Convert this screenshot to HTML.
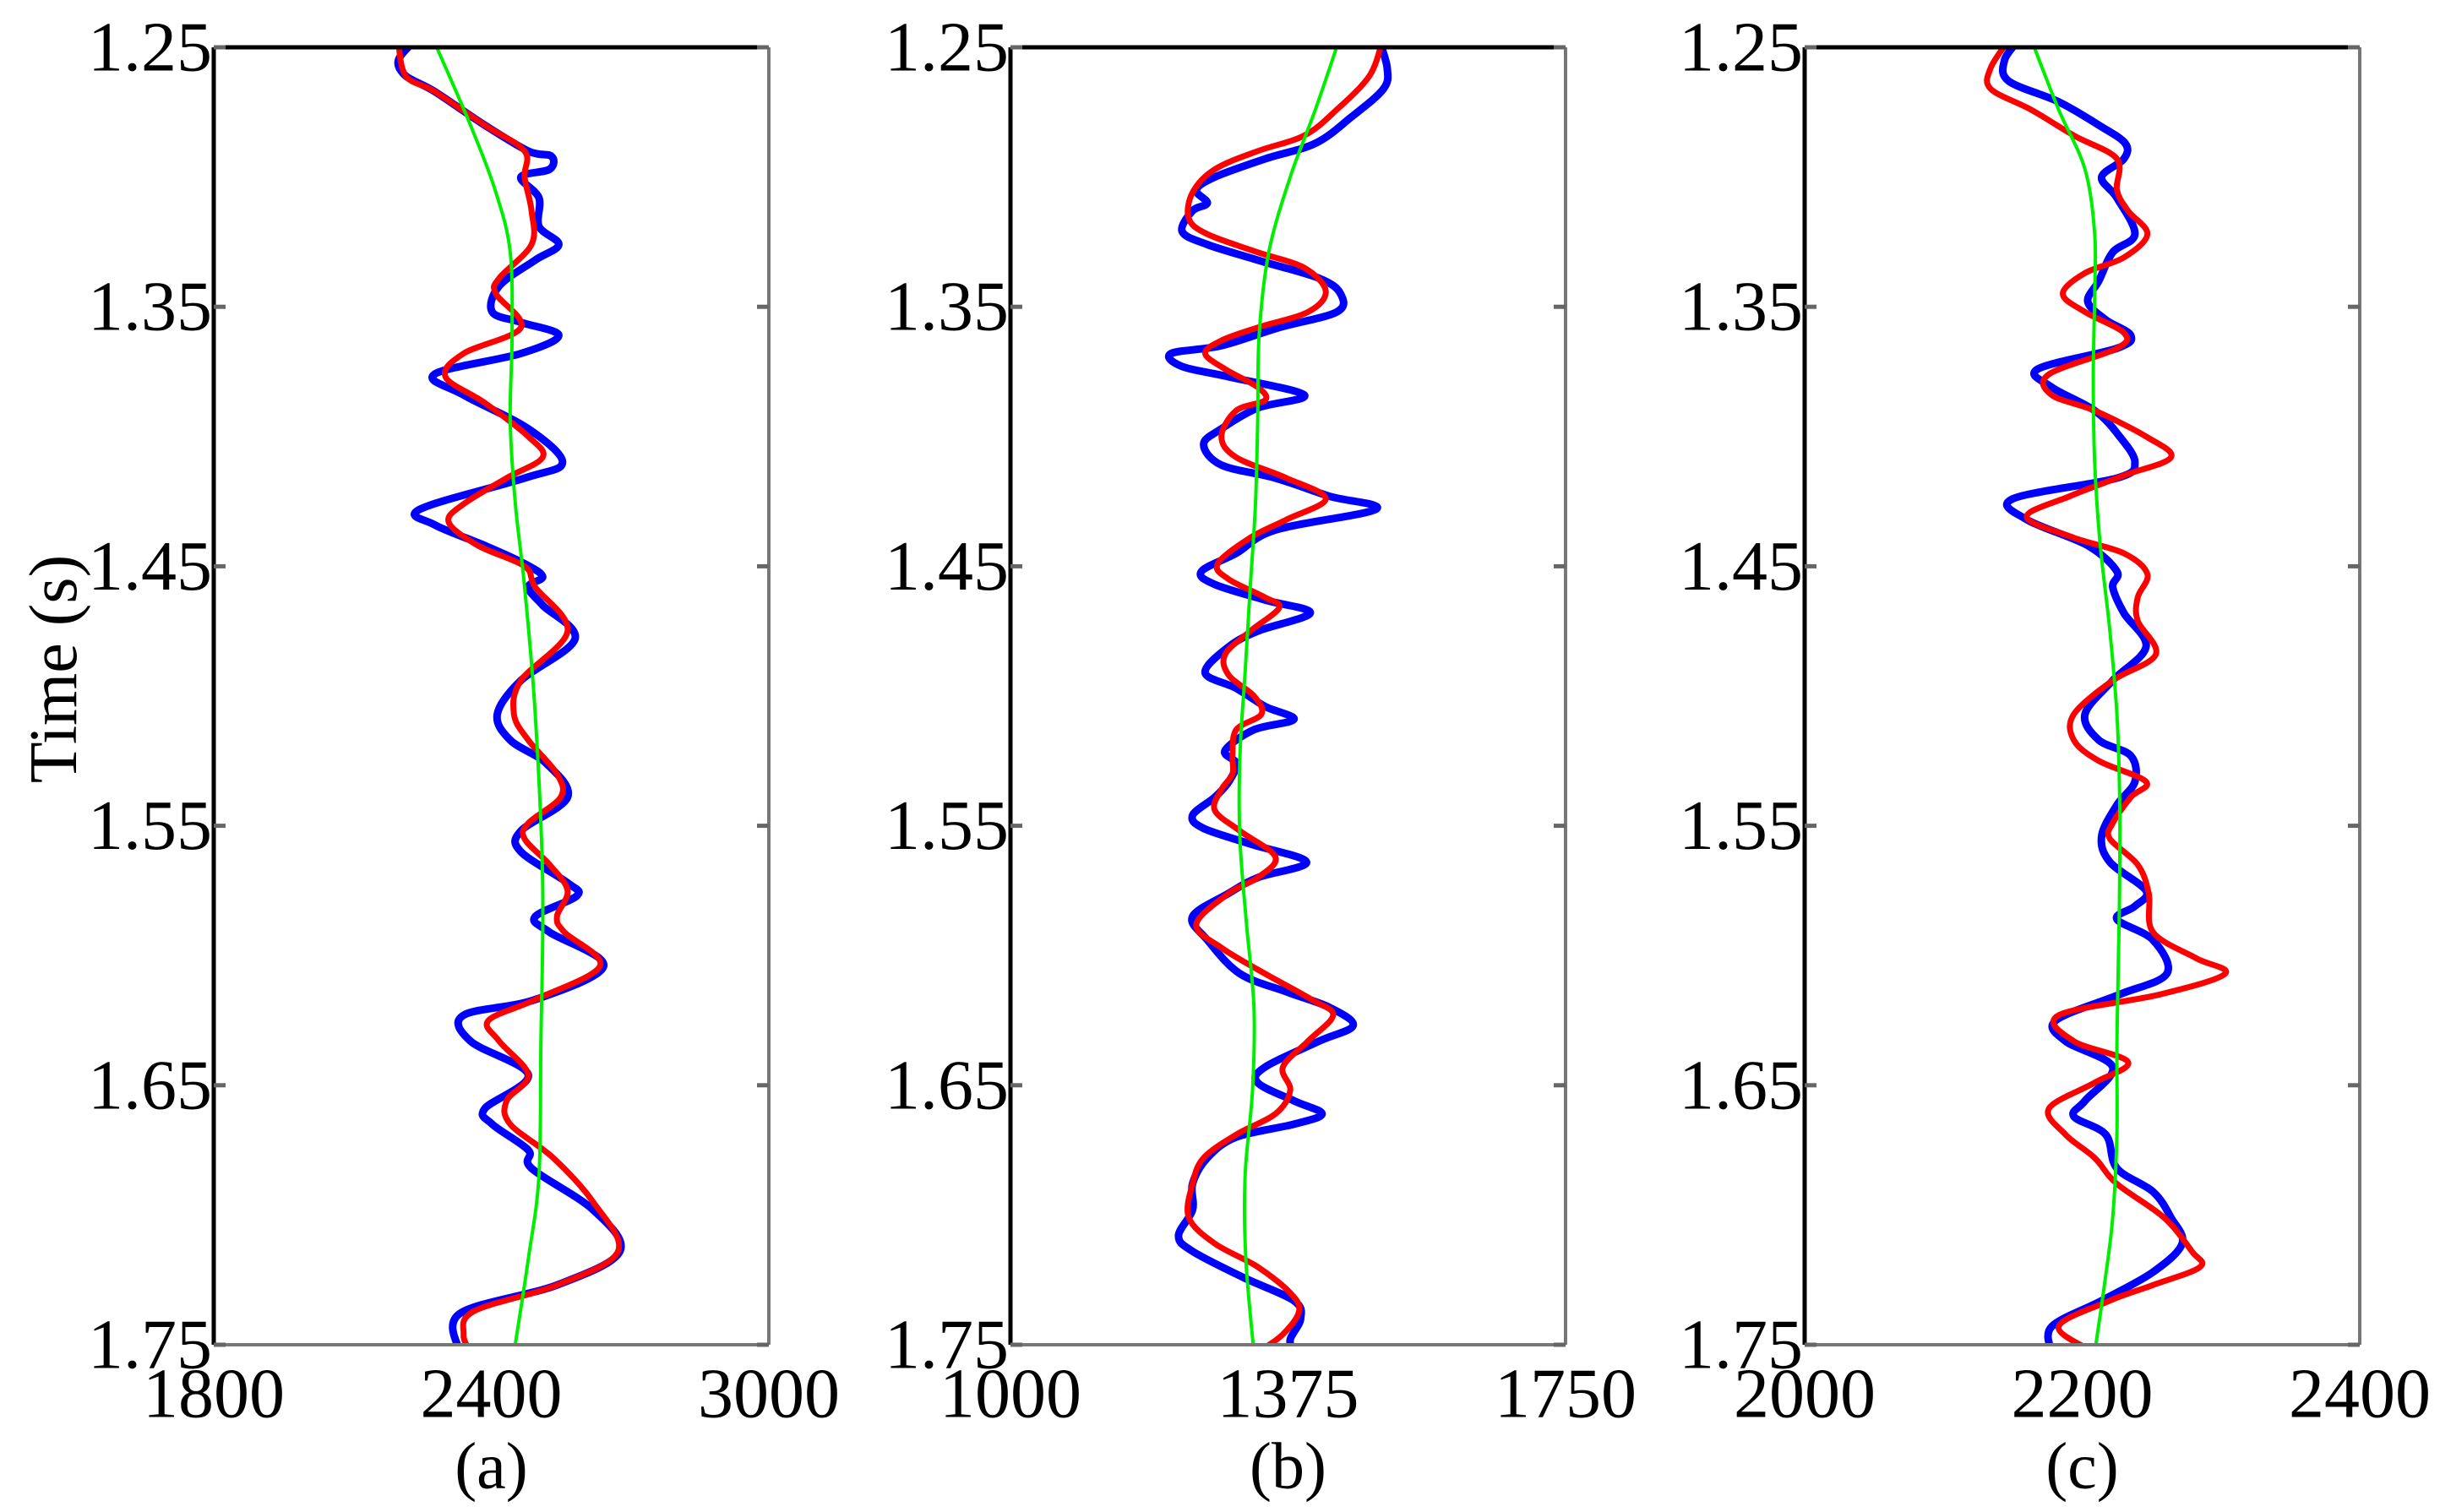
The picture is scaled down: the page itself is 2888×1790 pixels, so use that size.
<!DOCTYPE html>
<html><head><meta charset="utf-8"><style>
html,body{margin:0;padding:0;background:#fff;}
svg{display:block;}
text{font-family:"Liberation Serif",serif;fill:#000;}
</style></head><body>
<svg id="fig" width="2888" height="1790" viewBox="0 0 2888 1790" xmlns="http://www.w3.org/2000/svg">
<text x="64" y="792" font-size="80" text-anchor="middle" dominant-baseline="central" transform="rotate(-90 64 792)">Time (s)</text>
</svg>
<script>
const yTicks = [1.25, 1.35, 1.45, 1.55, 1.65, 1.75];
const yTickLabels = ["1.25","1.35","1.45","1.55","1.65","1.75"];
const panelNames = ["(a)","(b)","(c)"];
const xTicksA = [1800, 2400, 3000];
const xTicksB = [1000, 1375, 1750];
const xTicksC = [2000, 2200, 2400];

const aBlueT = [1.248,1.255,1.261,1.267,1.280,1.290,1.292,1.297,1.300,1.308,1.319,1.326,1.332,1.342,1.352,1.356,1.361,1.368,1.376,1.384,1.397,1.410,1.416,1.428,1.434,1.442,1.449,1.454,1.458,1.465,1.478,1.494,1.507,1.517,1.526,1.539,1.552,1.560,1.572,1.577,1.585,1.591,1.604,1.617,1.623,1.633,1.646,1.659,1.665,1.675,1.682,1.698,1.714,1.727,1.738,1.753];
const aBlueV = [2231,2199,2215,2277,2386,2480,2530,2526,2464,2503,2503,2546,2495,2417,2402,2464,2546,2464,2277,2340,2480,2554,2472,2246,2277,2386,2472,2511,2480,2511,2581,2464,2413,2441,2519,2565,2464,2464,2565,2585,2495,2526,2643,2495,2340,2355,2480,2386,2402,2480,2487,2620,2678,2542,2332,2332];
const aRedT = [1.248,1.261,1.267,1.280,1.290,1.300,1.313,1.326,1.339,1.345,1.358,1.368,1.377,1.387,1.400,1.408,1.416,1.426,1.433,1.442,1.450,1.458,1.475,1.494,1.507,1.517,1.530,1.539,1.549,1.555,1.565,1.575,1.585,1.591,1.604,1.617,1.625,1.633,1.646,1.656,1.665,1.678,1.695,1.714,1.727,1.737,1.746,1.753];
const aRedV = [2199,2215,2277,2386,2472,2472,2487,2487,2417,2410,2464,2340,2301,2386,2480,2511,2433,2340,2308,2371,2472,2495,2565,2464,2449,2480,2542,2550,2480,2472,2526,2565,2542,2558,2635,2495,2394,2417,2480,2433,2441,2534,2620,2674,2542,2363,2340,2355];
const aGreenT = [1.248,1.280,1.306,1.329,1.361,1.394,1.426,1.458,1.507,1.572,1.636,1.685,1.717,1.753];
const aGreenV = [2277,2355,2410,2441,2445,2441,2452,2472,2495,2511,2507,2503,2480,2449];

const bBlueT = [1.248,1.258,1.266,1.277,1.287,1.293,1.300,1.305,1.310,1.313,1.321,1.326,1.332,1.339,1.345,1.352,1.358,1.365,1.368,1.373,1.377,1.384,1.389,1.397,1.403,1.411,1.416,1.423,1.428,1.436,1.445,1.452,1.457,1.463,1.468,1.475,1.481,1.491,1.497,1.504,1.509,1.513,1.521,1.526,1.533,1.539,1.546,1.551,1.557,1.564,1.570,1.576,1.585,1.594,1.607,1.614,1.620,1.627,1.633,1.643,1.649,1.656,1.661,1.665,1.670,1.678,1.688,1.698,1.708,1.714,1.724,1.733,1.740,1.748,1.753];
const bBlueV = [1499,1509,1504,1460,1412,1344,1276,1251,1266,1246,1232,1266,1334,1417,1446,1441,1363,1285,1217,1232,1295,1397,1334,1285,1261,1285,1358,1431,1494,1358,1305,1258,1276,1344,1405,1334,1295,1263,1305,1344,1383,1329,1290,1305,1295,1276,1246,1261,1324,1400,1334,1295,1246,1266,1310,1373,1431,1463,1417,1344,1334,1383,1421,1383,1305,1266,1246,1246,1227,1246,1314,1383,1392,1378,1383];
const bRedT = [1.248,1.261,1.274,1.284,1.290,1.297,1.306,1.316,1.322,1.329,1.335,1.344,1.352,1.358,1.363,1.368,1.374,1.381,1.386,1.390,1.400,1.408,1.416,1.424,1.432,1.439,1.449,1.455,1.462,1.466,1.475,1.484,1.492,1.500,1.507,1.513,1.523,1.530,1.536,1.544,1.552,1.562,1.570,1.576,1.588,1.597,1.607,1.617,1.623,1.633,1.643,1.652,1.661,1.669,1.678,1.688,1.701,1.711,1.720,1.730,1.737,1.746,1.753];
const bRedV = [1502,1485,1441,1397,1334,1276,1246,1241,1266,1334,1397,1426,1402,1334,1285,1263,1290,1334,1344,1305,1285,1305,1373,1426,1373,1324,1280,1295,1344,1363,1324,1290,1295,1329,1339,1305,1300,1300,1285,1276,1310,1358,1334,1295,1251,1285,1344,1407,1436,1402,1368,1378,1358,1305,1261,1246,1241,1276,1334,1378,1390,1368,1334];
const bGreenT = [1.248,1.274,1.300,1.329,1.361,1.394,1.426,1.458,1.491,1.523,1.555,1.588,1.620,1.652,1.685,1.717,1.753];
const bGreenV = [1443,1412,1378,1349,1336,1334,1331,1324,1317,1310,1310,1319,1329,1327,1317,1318,1329];

const cBlueT = [1.248,1.255,1.263,1.271,1.280,1.287,1.293,1.300,1.308,1.322,1.329,1.340,1.348,1.355,1.361,1.366,1.374,1.381,1.390,1.400,1.410,1.416,1.424,1.432,1.442,1.452,1.458,1.468,1.481,1.494,1.507,1.517,1.523,1.533,1.542,1.554,1.564,1.575,1.581,1.586,1.594,1.607,1.615,1.625,1.633,1.643,1.656,1.662,1.669,1.682,1.691,1.701,1.711,1.722,1.733,1.743,1.753];
const cBlueV = [2153,2144,2147,2183,2212,2231,2230,2214,2225,2238,2222,2212,2204,2217,2235,2225,2168,2178,2209,2227,2238,2225,2150,2160,2204,2225,2222,2230,2246,2222,2202,2212,2235,2238,2225,2214,2220,2246,2238,2225,2251,2261,2227,2181,2188,2222,2202,2194,2217,2225,2251,2264,2272,2251,2214,2178,2178];
const cRedT = [1.248,1.258,1.266,1.274,1.284,1.293,1.305,1.313,1.322,1.331,1.337,1.345,1.352,1.360,1.366,1.376,1.384,1.390,1.400,1.408,1.415,1.423,1.431,1.439,1.445,1.453,1.462,1.471,1.484,1.494,1.507,1.517,1.525,1.533,1.539,1.549,1.555,1.565,1.576,1.591,1.601,1.607,1.615,1.623,1.633,1.641,1.649,1.659,1.669,1.678,1.688,1.701,1.714,1.720,1.727,1.733,1.743,1.753];
const cRedV = [2146,2134,2134,2163,2194,2225,2225,2233,2247,2230,2202,2186,2202,2230,2225,2176,2178,2209,2246,2264,2230,2191,2160,2194,2230,2247,2240,2240,2253,2222,2194,2194,2212,2246,2235,2222,2220,2240,2248,2251,2282,2303,2256,2183,2194,2233,2209,2176,2188,2209,2225,2259,2279,2285,2251,2220,2183,2209];
const cGreenT = [1.248,1.274,1.297,1.322,1.345,1.377,1.410,1.442,1.475,1.507,1.539,1.572,1.604,1.636,1.669,1.701,1.727,1.753];
const cGreenV = [2164,2183,2202,2209,2209,2208,2209,2213,2220,2225,2227,2227,2226,2225,2225,2222,2216,2209];

const NS = "http://www.w3.org/2000/svg";
const svg = document.getElementById('fig');
const TOP = 56, BOT = 1592;
const yScale = t => TOP + (t - 1.25) / 0.5 * (BOT - TOP);

const panels = [
  {left:253, right:910, xt:xTicksA, blueT:aBlueT, blueV:aBlueV, redT:aRedT, redV:aRedV, greenT:aGreenT, greenV:aGreenV},
  {left:1196, right:1853, xt:xTicksB, blueT:bBlueT, blueV:bBlueV, redT:bRedT, redV:bRedV, greenT:bGreenT, greenV:bGreenV},
  {left:2136, right:2793, xt:xTicksC, blueT:cBlueT, blueV:cBlueV, redT:cRedT, redV:cRedV, greenT:cGreenT, greenV:cGreenV}
];

function mk(tag, attrs){ const e=document.createElementNS(NS,tag); for(const k in attrs) e.setAttribute(k,attrs[k]); return e; }

function smoothPath(pts){
  let d = 'M' + pts[0][0].toFixed(1) + ',' + pts[0][1].toFixed(1);
  for (let i = 0; i < pts.length - 1; i++) {
    const p0 = pts[i-1] || pts[i], p1 = pts[i], p2 = pts[i+1], p3 = pts[i+2] || p2;
    const c1x = p1[0] + (p2[0]-p0[0])/6, c1y = p1[1] + (p2[1]-p0[1])/6;
    const c2x = p2[0] - (p3[0]-p1[0])/6, c2y = p2[1] - (p3[1]-p1[1])/6;
    d += 'C' + c1x.toFixed(1) + ',' + c1y.toFixed(1) + ' ' + c2x.toFixed(1) + ',' + c2y.toFixed(1) + ' ' + p2[0].toFixed(1) + ',' + p2[1].toFixed(1);
  }
  return d;
}

panels.forEach((p, i) => {
  const x0 = p.xt[0], x1 = p.xt[p.xt.length-1];
  const xScale = v => p.left + (v - x0) / (x1 - x0) * (p.right - p.left);
  const g = mk('g', {});
  
  
  svg.appendChild(g);

  const cid = 'clip' + i;
  const defs = mk('defs', {});
  const cp = mk('clipPath', {id: cid});
  cp.appendChild(mk('rect', {x:p.left, y:TOP, width:p.right-p.left, height:BOT-TOP}));
  defs.appendChild(cp); g.appendChild(defs);

  const series = [
    {T:p.blueT, V:p.blueV, c:'#0000ff', w:9, n:'blue-trace'},
    {T:p.redT, V:p.redV, c:'#ff0000', w:7, n:'red-trace'},
    {T:p.greenT, V:p.greenV, c:'#00ee00', w:4, n:'green-trace'}
  ];
  series.forEach(s => {
    const pts = s.T.map((t, k) => [xScale(s.V[k]), yScale(t)]);
    const path = mk('path', {d:smoothPath(pts), fill:'none', stroke:s.c, 'stroke-width':s.w, 'stroke-linejoin':'round', 'stroke-linecap':'round', 'clip-path':'url(#'+cid+')'});
    
    
    g.appendChild(path);
  });

  const fr = [
    {x1:p.left, y1:TOP, x2:p.right, y2:TOP, c:'#000', w:5, n:'top-border'},
    {x1:p.left, y1:TOP, x2:p.left, y2:BOT, c:'#000', w:5, n:'left-axis'},
    {x1:p.right, y1:TOP, x2:p.right, y2:BOT, c:'#777', w:4, n:'right-border'},
    {x1:p.left, y1:BOT, x2:p.right, y2:BOT, c:'#777', w:4, n:'bottom-axis'}
  ];
  fr.forEach(f => {
    const l = mk('line', {x1:f.x1, y1:f.y1, x2:f.x2, y2:f.y2, stroke:f.c, 'stroke-width':f.w});
    
    
    g.appendChild(l);
  });

  yTicks.forEach((t, k) => {
    const y = yScale(t);
    const t1 = mk('line', {x1:p.left, y1:y, x2:p.left+14, y2:y, stroke:'#666', 'stroke-width':5});
    
    
    g.appendChild(t1);
    const t2 = mk('line', {x1:p.right-14, y1:y, x2:p.right, y2:y, stroke:'#666', 'stroke-width':5});
    
    
    g.appendChild(t2);
    const lab = mk('text', {x:p.left-2, y:y, 'font-size':84, 'text-anchor':'end', 'dominant-baseline':'central'});
    
    
    lab.textContent = yTickLabels[k];
    g.appendChild(lab);
  });

  p.xt.forEach(v => {
    const lab = mk('text', {x:xScale(v), y:1650, 'font-size':84, 'text-anchor':'middle', 'dominant-baseline':'central'});
    
    
    lab.textContent = String(v);
    g.appendChild(lab);
  });

  const cap = mk('text', {x:(p.left+p.right)/2, y:1735, 'font-size':78, 'text-anchor':'middle', 'dominant-baseline':'central'});
  
  
  cap.textContent = panelNames[i];
  g.appendChild(cap);
});
</script>
</body></html>
